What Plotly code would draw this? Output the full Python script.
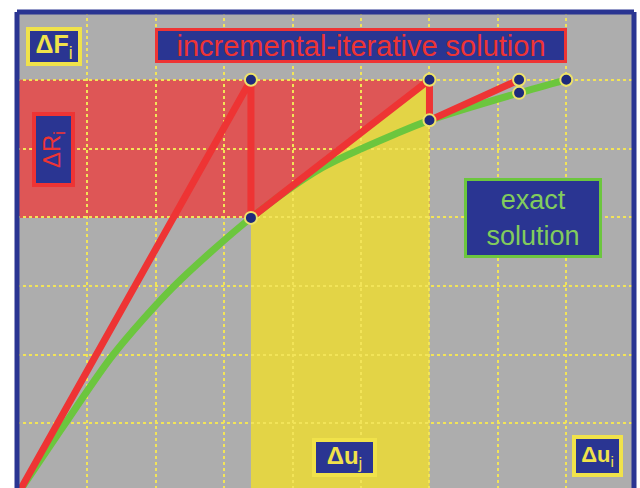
import plotly.graph_objects as go

# ---- data (grid units) ----
exact_x = [0, 0.67, 1.37, 2.25, 3.39, 4.43, 5.57, 6.0, 7.31, 8.0]
exact_y = [0, 0.99, 1.99, 2.98, 3.99, 4.72, 5.24, 5.41, 5.81, 6.0]

iter_x = [0, 3.39, 3.39, 6.0, 6.0, 7.31]
iter_y = [0, 6.0, 3.99, 6.0, 5.41, 6.0]

node_x = [3.39, 3.39, 6.0, 6.0, 7.31, 7.31, 8.0]
node_y = [6.0, 3.99, 6.0, 5.41, 6.0, 5.81, 6.0]

load_level = 6.0        # ΔF_i level
residual_low = 3.99     # lower edge of ΔR_i band
du_j = [3.39, 6.0]      # Δu_j band
grid_x = [1, 2, 3, 4, 5, 6, 7, 8]
grid_y = [1, 2, 3, 4, 5, 6]

# ---- layout geometry ----
W, H = 640, 488
ML, MR, MT, MB = 17, 6, 12, 0
X_RANGE = [-0.03, 8.99]
Y_RANGE = [0.058, 6.987]
PW, PH = W - ML - MR, H - MT - MB

def px(xp, yp):
    return (xp - ML) / PW, 1 - (yp - MT) / PH

NAVY = "#2a3592"
YELLOW = "#f0e24a"
RED = "#ee3434"
GREEN = "#6cc63e"

fig = go.Figure()

fig.add_trace(go.Scatter(x=exact_x, y=exact_y, mode="lines",
                         line=dict(color=GREEN, width=7, shape="spline", smoothing=0.8),
                         hoverinfo="skip", showlegend=False))
fig.add_trace(go.Scatter(x=iter_x, y=iter_y, mode="lines",
                         line=dict(color=RED, width=7),
                         hoverinfo="skip", showlegend=False))
fig.add_trace(go.Scatter(x=node_x, y=node_y, mode="markers",
                         marker=dict(size=12, color="#1e2a7c",
                                     line=dict(color="#eee26a", width=2)),
                         hoverinfo="skip", showlegend=False))

shapes = [
    # ΔR_i band
    dict(type="rect", xref="x", yref="y", x0=X_RANGE[0], x1=du_j[1],
         y0=residual_low, y1=load_level, fillcolor="#de5656",
         line=dict(width=0), layer="below"),
    # Δu_j band up to the iteration line
    dict(type="path", xref="x", yref="y",
         path=f"M {du_j[0]},{Y_RANGE[0]} L {du_j[0]},{residual_low} "
              f"L {du_j[1]},{load_level} L {du_j[1]},{Y_RANGE[0]} Z",
         fillcolor="#e3d446", line=dict(width=0), layer="below"),
]
# frame (left, top, right)
for x0, y0, x1, y1 in [(0, -0.1, 0, 1), (0, 1, 1, 1), (1, 1, 1, -0.1)]:
    shapes.append(dict(type="line", xref="paper", yref="paper",
                       x0=x0, y0=y0, x1=x1, y1=y1,
                       line=dict(color=NAVY, width=5), layer="above"))

def box(text, cx, cy, w, h, color, border, bw, size, angle=0):
    x, y = px(cx, cy)
    return dict(text=text, x=x, y=y, xref="paper", yref="paper",
                xanchor="center", yanchor="middle", showarrow=False,
                width=w, height=h, bgcolor=NAVY, bordercolor=border,
                borderwidth=bw, borderpad=0, textangle=angle,
                font=dict(family="Liberation Sans, Arial, sans-serif",
                          size=size, color=color))

annotations = [
    box("incremental-iterative solution", 361, 45.5, 406, 29, RED, RED, 3, 29),
    box("<b>ΔF</b><sub>i</sub>", 54, 46.5, 48, 31, YELLOW, YELLOW, 4, 25),
    box("ΔR<sub>i</sub>", 53.5, 149.5, 67, 35, RED, RED, 4, 24, angle=-90),
    box("exact<br>solution", 533, 218, 132, 74, "#82cc5c", "#6cc63e", 3, 27),
    box("<b>Δu</b><sub>j</sub>", 344.5, 457.5, 57, 31, YELLOW, YELLOW, 4, 24),
    box("<b>Δu</b><sub>i</sub>", 597.5, 456, 43, 34, YELLOW, YELLOW, 4, 22),
]

axis_common = dict(showticklabels=False, ticks="", zeroline=False, showline=False,
                   showgrid=True, gridcolor="#f2e458", gridwidth=1.5, griddash="dot",
                   fixedrange=True)

fig.update_layout(
    width=W, height=H,
    margin=dict(l=ML, r=MR, t=MT, b=MB, pad=0),
    paper_bgcolor="white", plot_bgcolor="#adadad",
    xaxis=dict(range=X_RANGE, tickvals=grid_x, **axis_common),
    yaxis=dict(range=Y_RANGE, tickvals=grid_y, **axis_common),
    shapes=shapes, annotations=annotations,
)

fig.write_html("out.html", config={"displayModeBar": False},
               post_script="document.body.style.margin='0px';"
                           "document.body.style.overflow='hidden';")
